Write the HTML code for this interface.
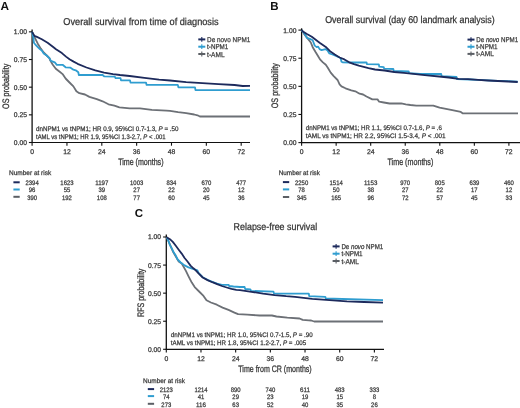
<!DOCTYPE html>
<html><head><meta charset="utf-8"><style>
html,body{margin:0;padding:0;background:#fff;width:520px;height:408px;overflow:hidden;}
svg{display:block;will-change:transform;}
text{font-family:"Liberation Sans",sans-serif;text-rendering:geometricPrecision;}
</style></head><body>
<svg width="520" height="408" viewBox="0 0 520 408">
<rect width="520" height="408" fill="#fff"/>
<text x="0.5" y="10.1" font-size="11.8" fill="#111" font-weight="bold">A</text>
<text x="63.3" y="24.9" font-size="10" fill="#333" textLength="155.3" lengthAdjust="spacingAndGlyphs" stroke="#333" stroke-width="0.25">Overall survival from time of diagnosis</text>
<path d="M32.1 29.5 V143.1" fill="none" stroke="#111" stroke-width="1.3"/>
<path d="M31.5 142.5 H250" fill="none" stroke="#111" stroke-width="1.15"/>
<path d="M28.9 142.5 H32.1" stroke="#111" stroke-width="1.1"/>
<text x="26.9" y="144.95" font-size="6.8" fill="#3a3a3a" text-anchor="end" textLength="13.1" lengthAdjust="spacingAndGlyphs" stroke="#3a3a3a" stroke-width="0.25">0.00</text>
<path d="M28.9 114.84 H32.1" stroke="#111" stroke-width="1.1"/>
<text x="26.9" y="117.29" font-size="6.8" fill="#3a3a3a" text-anchor="end" textLength="13.1" lengthAdjust="spacingAndGlyphs" stroke="#3a3a3a" stroke-width="0.25">0.25</text>
<path d="M28.9 87.17 H32.1" stroke="#111" stroke-width="1.1"/>
<text x="26.9" y="89.62" font-size="6.8" fill="#3a3a3a" text-anchor="end" textLength="13.1" lengthAdjust="spacingAndGlyphs" stroke="#3a3a3a" stroke-width="0.25">0.50</text>
<path d="M28.9 59.51 H32.1" stroke="#111" stroke-width="1.1"/>
<text x="26.9" y="61.96" font-size="6.8" fill="#3a3a3a" text-anchor="end" textLength="13.1" lengthAdjust="spacingAndGlyphs" stroke="#3a3a3a" stroke-width="0.25">0.75</text>
<path d="M28.9 31.85 H32.1" stroke="#111" stroke-width="1.1"/>
<text x="26.9" y="34.3" font-size="6.8" fill="#3a3a3a" text-anchor="end" textLength="13.1" lengthAdjust="spacingAndGlyphs" stroke="#3a3a3a" stroke-width="0.25">1.00</text>
<path d="M32.1 142.5 V145.7" stroke="#111" stroke-width="1.1"/>
<text x="32.1" y="153.8" font-size="6.8" fill="#3a3a3a" text-anchor="middle" stroke="#3a3a3a" stroke-width="0.25">0</text>
<path d="M66.95 142.5 V145.7" stroke="#111" stroke-width="1.1"/>
<text x="66.95" y="153.8" font-size="6.8" fill="#3a3a3a" text-anchor="middle" stroke="#3a3a3a" stroke-width="0.25">12</text>
<path d="M101.8 142.5 V145.7" stroke="#111" stroke-width="1.1"/>
<text x="101.8" y="153.8" font-size="6.8" fill="#3a3a3a" text-anchor="middle" stroke="#3a3a3a" stroke-width="0.25">24</text>
<path d="M136.64 142.5 V145.7" stroke="#111" stroke-width="1.1"/>
<text x="136.64" y="153.8" font-size="6.8" fill="#3a3a3a" text-anchor="middle" stroke="#3a3a3a" stroke-width="0.25">36</text>
<path d="M171.49 142.5 V145.7" stroke="#111" stroke-width="1.1"/>
<text x="171.49" y="153.8" font-size="6.8" fill="#3a3a3a" text-anchor="middle" stroke="#3a3a3a" stroke-width="0.25">48</text>
<path d="M206.34 142.5 V145.7" stroke="#111" stroke-width="1.1"/>
<text x="206.34" y="153.8" font-size="6.8" fill="#3a3a3a" text-anchor="middle" stroke="#3a3a3a" stroke-width="0.25">60</text>
<path d="M241.19 142.5 V145.7" stroke="#111" stroke-width="1.1"/>
<text x="241.19" y="153.8" font-size="6.8" fill="#3a3a3a" text-anchor="middle" stroke="#3a3a3a" stroke-width="0.25">72</text>
<text x="118.2" y="164.5" font-size="9.4" fill="#3a3a3a" textLength="45.3" lengthAdjust="spacingAndGlyphs" stroke="#3a3a3a" stroke-width="0.32">Time (months)</text>
<g transform="translate(9.3 108.9) rotate(-90)"><text x="0" y="0" font-size="9.4" fill="#3a3a3a" textLength="45.2" lengthAdjust="spacingAndGlyphs" stroke="#3a3a3a" stroke-width="0.32">OS probability</text></g>
<path d="M198.3 39.4 H205.3" stroke="#1d2a5c" stroke-width="2"/><path d="M201.8 37 V41.8" stroke="#1d2a5c" stroke-width="1.1"/>
<text x="207.1" y="41.9" font-size="7" fill="#3a3a3a" textLength="43.2" lengthAdjust="spacingAndGlyphs" stroke="#3a3a3a" stroke-width="0.25">De novo NPM1</text>
<path d="M198.3 46.7 H205.3" stroke="#2f9dd0" stroke-width="2"/><path d="M201.8 44.3 V49.1" stroke="#2f9dd0" stroke-width="1.1"/>
<text x="207.1" y="49.2" font-size="7" fill="#3a3a3a" textLength="21.2" lengthAdjust="spacingAndGlyphs" stroke="#3a3a3a" stroke-width="0.25">t-NPM1</text>
<path d="M198.3 54 H205.3" stroke="#5b5f65" stroke-width="2"/><path d="M201.8 51.6 V56.4" stroke="#5b5f65" stroke-width="1.1"/>
<text x="207.1" y="56.5" font-size="7" fill="#3a3a3a" textLength="17.5" lengthAdjust="spacingAndGlyphs" stroke="#3a3a3a" stroke-width="0.25">t-AML</text>
<text x="36" y="130.6" font-size="6.6" fill="#3a3a3a" textLength="142.5" lengthAdjust="spacingAndGlyphs" stroke="#3a3a3a" stroke-width="0.25">dnNPM1 vs tNPM1; HR 0.9, 95%CI 0.7-1.3, <tspan font-style="italic">P</tspan> = .50</text>
<text x="36" y="138.8" font-size="6.6" fill="#3a3a3a" textLength="129.6" lengthAdjust="spacingAndGlyphs" stroke="#3a3a3a" stroke-width="0.25">tAML vs tNPM1; HR 1.9, 95%CI 1.3-2.7, <tspan font-style="italic">P</tspan> &lt; .001</text>
<polyline points="32.1,31.9 33,34 34.9,37.8 37.8,43.7 40.8,48.6 43.7,52.5 46.7,55.5 49.6,58.4 49.9,59.9 52.8,64.8 55.8,68.7 59.7,71.7 62.6,74.1 65.6,78.5 69.5,82.5 73.4,86.4 76.4,91.3 79.3,93.2 85,94.5 89.4,96.9 96.8,99.1 102.6,101.3 108.5,104.3 114.4,105.7 119.4,107.4 129.7,108.4 140,108.4 151.8,109.9 166.5,110.6 170,110.8 178.1,112.1 186.2,113.2 194.2,114.5 197.5,115.3 199.9,116.5 250,116.5" fill="none" stroke="#6c7076" stroke-width="1.8" stroke-linejoin="round" stroke-linecap="butt"/>
<polyline points="32.1,31.9 33.4,37.8 33.9,42.7 35.9,45.2 37.8,47.2 39.8,49.1 41.8,50.6 43.7,53.5 46.7,55.5 49.6,58.4 50.9,60.9 54.8,62.4 56.8,64.8 62.6,64.8 65.6,67.3 70.5,67.7 73.4,69.7 76.4,70.7 78.3,72.2 78.8,75 102.6,75 104.1,76.3 114.8,76.6 115.4,78 120.5,78.1 121,80.4 130,80.4 130.5,82.6 146,82.6 146.6,84.9 177.8,84.9 178.4,87.3 195,87.3 195.5,90.2 250,90.2" fill="none" stroke="#2f9dd0" stroke-width="1.8" stroke-linejoin="round" stroke-linecap="butt"/>
<polyline points="32.1,31.9 34.4,35.9 36.9,36.9 41.8,39.3 47.6,42.7 53.5,47.2 56,49.2 61.9,53.1 66,56.6 69.5,59.2 73.6,61.6 77.6,63.8 86.5,67.5 95.3,70.4 104.1,72.6 113,74.1 120,75 129.7,76 144.4,77.9 159.1,79.7 170,80.5 186.2,82.1 202.3,83.2 218.5,84.2 234.6,85 242.7,86 250,85.8" fill="none" stroke="#1d2a5c" stroke-width="1.8" stroke-linejoin="round" stroke-linecap="butt"/>
<text x="9" y="175.2" font-size="6.6" fill="#3a3a3a" textLength="42.2" lengthAdjust="spacingAndGlyphs" stroke="#3a3a3a" stroke-width="0.25">Number at risk</text>
<path d="M13.4 182.3 H19.7" stroke="#1d2a5c" stroke-width="2"/>
<text x="32.1" y="185" font-size="6.5" fill="#3a3a3a" text-anchor="middle" textLength="13.2" lengthAdjust="spacingAndGlyphs" stroke="#3a3a3a" stroke-width="0.25">2394</text>
<text x="66.95" y="185" font-size="6.5" fill="#3a3a3a" text-anchor="middle" textLength="13.2" lengthAdjust="spacingAndGlyphs" stroke="#3a3a3a" stroke-width="0.25">1623</text>
<text x="101.8" y="185" font-size="6.5" fill="#3a3a3a" text-anchor="middle" textLength="13.2" lengthAdjust="spacingAndGlyphs" stroke="#3a3a3a" stroke-width="0.25">1197</text>
<text x="136.64" y="185" font-size="6.5" fill="#3a3a3a" text-anchor="middle" textLength="13.2" lengthAdjust="spacingAndGlyphs" stroke="#3a3a3a" stroke-width="0.25">1003</text>
<text x="171.49" y="185" font-size="6.5" fill="#3a3a3a" text-anchor="middle" textLength="9.9" lengthAdjust="spacingAndGlyphs" stroke="#3a3a3a" stroke-width="0.25">834</text>
<text x="206.34" y="185" font-size="6.5" fill="#3a3a3a" text-anchor="middle" textLength="9.9" lengthAdjust="spacingAndGlyphs" stroke="#3a3a3a" stroke-width="0.25">670</text>
<text x="241.19" y="185" font-size="6.5" fill="#3a3a3a" text-anchor="middle" textLength="9.9" lengthAdjust="spacingAndGlyphs" stroke="#3a3a3a" stroke-width="0.25">477</text>
<path d="M13.4 189.5 H19.7" stroke="#2f9dd0" stroke-width="2"/>
<text x="32.1" y="192.2" font-size="6.5" fill="#3a3a3a" text-anchor="middle" textLength="6.6" lengthAdjust="spacingAndGlyphs" stroke="#3a3a3a" stroke-width="0.25">96</text>
<text x="66.95" y="192.2" font-size="6.5" fill="#3a3a3a" text-anchor="middle" textLength="6.6" lengthAdjust="spacingAndGlyphs" stroke="#3a3a3a" stroke-width="0.25">55</text>
<text x="101.8" y="192.2" font-size="6.5" fill="#3a3a3a" text-anchor="middle" textLength="6.6" lengthAdjust="spacingAndGlyphs" stroke="#3a3a3a" stroke-width="0.25">39</text>
<text x="136.64" y="192.2" font-size="6.5" fill="#3a3a3a" text-anchor="middle" textLength="6.6" lengthAdjust="spacingAndGlyphs" stroke="#3a3a3a" stroke-width="0.25">27</text>
<text x="171.49" y="192.2" font-size="6.5" fill="#3a3a3a" text-anchor="middle" textLength="6.6" lengthAdjust="spacingAndGlyphs" stroke="#3a3a3a" stroke-width="0.25">22</text>
<text x="206.34" y="192.2" font-size="6.5" fill="#3a3a3a" text-anchor="middle" textLength="6.6" lengthAdjust="spacingAndGlyphs" stroke="#3a3a3a" stroke-width="0.25">20</text>
<text x="241.19" y="192.2" font-size="6.5" fill="#3a3a3a" text-anchor="middle" textLength="6.6" lengthAdjust="spacingAndGlyphs" stroke="#3a3a3a" stroke-width="0.25">12</text>
<path d="M13.4 196.8 H19.7" stroke="#5b5f65" stroke-width="2"/>
<text x="32.1" y="199.5" font-size="6.5" fill="#3a3a3a" text-anchor="middle" textLength="9.9" lengthAdjust="spacingAndGlyphs" stroke="#3a3a3a" stroke-width="0.25">390</text>
<text x="66.95" y="199.5" font-size="6.5" fill="#3a3a3a" text-anchor="middle" textLength="9.9" lengthAdjust="spacingAndGlyphs" stroke="#3a3a3a" stroke-width="0.25">192</text>
<text x="101.8" y="199.5" font-size="6.5" fill="#3a3a3a" text-anchor="middle" textLength="9.9" lengthAdjust="spacingAndGlyphs" stroke="#3a3a3a" stroke-width="0.25">108</text>
<text x="136.64" y="199.5" font-size="6.5" fill="#3a3a3a" text-anchor="middle" textLength="6.6" lengthAdjust="spacingAndGlyphs" stroke="#3a3a3a" stroke-width="0.25">77</text>
<text x="171.49" y="199.5" font-size="6.5" fill="#3a3a3a" text-anchor="middle" textLength="6.6" lengthAdjust="spacingAndGlyphs" stroke="#3a3a3a" stroke-width="0.25">60</text>
<text x="206.34" y="199.5" font-size="6.5" fill="#3a3a3a" text-anchor="middle" textLength="6.6" lengthAdjust="spacingAndGlyphs" stroke="#3a3a3a" stroke-width="0.25">45</text>
<text x="241.19" y="199.5" font-size="6.5" fill="#3a3a3a" text-anchor="middle" textLength="6.6" lengthAdjust="spacingAndGlyphs" stroke="#3a3a3a" stroke-width="0.25">36</text>
<text x="270.2" y="10.3" font-size="11.5" fill="#111" font-weight="bold">B</text>
<text x="325.2" y="22.9" font-size="10" fill="#333" textLength="169.4" lengthAdjust="spacingAndGlyphs" stroke="#333" stroke-width="0.25">Overall survival (day 60 landmark analysis)</text>
<path d="M301.6 28.3 V143.2" fill="none" stroke="#111" stroke-width="1.3"/>
<path d="M301 142.6 H520" fill="none" stroke="#111" stroke-width="1.15"/>
<path d="M298.4 142.6 H301.6" stroke="#111" stroke-width="1.1"/>
<text x="296.4" y="145.05" font-size="6.8" fill="#3a3a3a" text-anchor="end" textLength="13.1" lengthAdjust="spacingAndGlyphs" stroke="#3a3a3a" stroke-width="0.25">0.00</text>
<path d="M298.4 114.47 H301.6" stroke="#111" stroke-width="1.1"/>
<text x="296.4" y="116.92" font-size="6.8" fill="#3a3a3a" text-anchor="end" textLength="13.1" lengthAdjust="spacingAndGlyphs" stroke="#3a3a3a" stroke-width="0.25">0.25</text>
<path d="M298.4 86.35 H301.6" stroke="#111" stroke-width="1.1"/>
<text x="296.4" y="88.8" font-size="6.8" fill="#3a3a3a" text-anchor="end" textLength="13.1" lengthAdjust="spacingAndGlyphs" stroke="#3a3a3a" stroke-width="0.25">0.50</text>
<path d="M298.4 58.22 H301.6" stroke="#111" stroke-width="1.1"/>
<text x="296.4" y="60.67" font-size="6.8" fill="#3a3a3a" text-anchor="end" textLength="13.1" lengthAdjust="spacingAndGlyphs" stroke="#3a3a3a" stroke-width="0.25">0.75</text>
<path d="M298.4 30.1 H301.6" stroke="#111" stroke-width="1.1"/>
<text x="296.4" y="32.55" font-size="6.8" fill="#3a3a3a" text-anchor="end" textLength="13.1" lengthAdjust="spacingAndGlyphs" stroke="#3a3a3a" stroke-width="0.25">1.00</text>
<path d="M301.6 142.6 V145.8" stroke="#111" stroke-width="1.1"/>
<text x="301.6" y="153.9" font-size="6.8" fill="#3a3a3a" text-anchor="middle" stroke="#3a3a3a" stroke-width="0.25">0</text>
<path d="M336.15 142.6 V145.8" stroke="#111" stroke-width="1.1"/>
<text x="336.15" y="153.9" font-size="6.8" fill="#3a3a3a" text-anchor="middle" stroke="#3a3a3a" stroke-width="0.25">12</text>
<path d="M370.7 142.6 V145.8" stroke="#111" stroke-width="1.1"/>
<text x="370.7" y="153.9" font-size="6.8" fill="#3a3a3a" text-anchor="middle" stroke="#3a3a3a" stroke-width="0.25">24</text>
<path d="M405.24 142.6 V145.8" stroke="#111" stroke-width="1.1"/>
<text x="405.24" y="153.9" font-size="6.8" fill="#3a3a3a" text-anchor="middle" stroke="#3a3a3a" stroke-width="0.25">36</text>
<path d="M439.79 142.6 V145.8" stroke="#111" stroke-width="1.1"/>
<text x="439.79" y="153.9" font-size="6.8" fill="#3a3a3a" text-anchor="middle" stroke="#3a3a3a" stroke-width="0.25">48</text>
<path d="M474.34 142.6 V145.8" stroke="#111" stroke-width="1.1"/>
<text x="474.34" y="153.9" font-size="6.8" fill="#3a3a3a" text-anchor="middle" stroke="#3a3a3a" stroke-width="0.25">60</text>
<path d="M508.89 142.6 V145.8" stroke="#111" stroke-width="1.1"/>
<text x="508.89" y="153.9" font-size="6.8" fill="#3a3a3a" text-anchor="middle" stroke="#3a3a3a" stroke-width="0.25">72</text>
<text x="387.5" y="164.6" font-size="9.4" fill="#3a3a3a" textLength="45.8" lengthAdjust="spacingAndGlyphs" stroke="#3a3a3a" stroke-width="0.32">Time (months)</text>
<g transform="translate(278.3 108.2) rotate(-90)"><text x="0" y="0" font-size="9.4" fill="#3a3a3a" textLength="45" lengthAdjust="spacingAndGlyphs" stroke="#3a3a3a" stroke-width="0.32">OS probability</text></g>
<path d="M467.5 39.6 H474.5" stroke="#1d2a5c" stroke-width="2"/><path d="M471 37.2 V42" stroke="#1d2a5c" stroke-width="1.1"/>
<text x="476.3" y="42.1" font-size="7" fill="#3a3a3a" textLength="41.9" lengthAdjust="spacingAndGlyphs" stroke="#3a3a3a" stroke-width="0.25">De <tspan font-style="italic">novo</tspan> NPM1</text>
<path d="M467.5 46.75 H474.5" stroke="#2f9dd0" stroke-width="2"/><path d="M471 44.35 V49.15" stroke="#2f9dd0" stroke-width="1.1"/>
<text x="476.3" y="49.25" font-size="7" fill="#3a3a3a" textLength="21.2" lengthAdjust="spacingAndGlyphs" stroke="#3a3a3a" stroke-width="0.25">t-NPM1</text>
<path d="M467.5 53.9 H474.5" stroke="#5b5f65" stroke-width="2"/><path d="M471 51.5 V56.3" stroke="#5b5f65" stroke-width="1.1"/>
<text x="476.3" y="56.4" font-size="7" fill="#3a3a3a" textLength="17.5" lengthAdjust="spacingAndGlyphs" stroke="#3a3a3a" stroke-width="0.25">t-AML</text>
<text x="305.8" y="129.7" font-size="6.6" fill="#3a3a3a" textLength="136.1" lengthAdjust="spacingAndGlyphs" stroke="#3a3a3a" stroke-width="0.25">dnNPM1 vs tNPM1; HR 1.1, 95%CI 0.7-1.6, <tspan font-style="italic">P</tspan> = .6</text>
<text x="305.8" y="137.9" font-size="6.6" fill="#3a3a3a" textLength="139.9" lengthAdjust="spacingAndGlyphs" stroke="#3a3a3a" stroke-width="0.25">tAML vs tNPM1; HR 2.2, 95%CI 1.5-3.4, <tspan font-style="italic">P</tspan> &lt; .001</text>
<polyline points="301.6,30.1 303.9,33.6 307.8,38.6 310.8,42.5 312.7,47.2 315.7,52.3 318,56 320,59.4 322.9,62.4 325.8,64.8 327.8,67.7 330.7,72.6 333.7,76.1 337.6,80 339.6,84.4 341.5,86.4 345.5,88.3 351.3,90.3 355.3,91.3 359.6,93.7 363.1,94.5 366.5,96.5 372.3,99.4 377.5,99.4 379.2,101.7 383.8,102.5 389.6,103.5 401.2,103.4 405.8,104.4 410.4,105 416.3,105.6 433.3,105.6 439.6,107.7 452.3,110.2 460.8,111.9 462.9,113.4 518,113.4" fill="none" stroke="#6c7076" stroke-width="1.8" stroke-linejoin="round" stroke-linecap="butt"/>
<polyline points="301.6,30.1 303.9,32.9 306.9,37.8 309.8,38.8 312.7,40.3 314.7,45.6 316.7,47.1 318.1,46.6 319.6,49.1 321.6,50.1 325.5,49.1 327.5,50.5 329.4,53.5 332.4,54.5 334.8,55.5 340.6,58 341.5,61.8 342.5,62.3 351,62.5 366.5,62.3 367,64.2 378.8,64.4 379.3,66.7 383.7,67.1 384.1,68.6 393.3,69 393.8,71 408.7,71.5 409.1,73.2 420,74 441.2,74 441.6,76.1 456.5,77 457,79.2 470,79.5 478,79.8 488,80.4 498,80.8 508,81.2 517.7,81.6" fill="none" stroke="#2f9dd0" stroke-width="1.8" stroke-linejoin="round" stroke-linecap="butt"/>
<polyline points="301.6,30.1 302.9,31.4 306.9,33.9 311.8,36.8 319.6,42.7 326.5,47.6 330,51.2 334.8,54.6 339.6,57.5 344.4,59.4 349.2,62.3 354,64.2 358.8,65.7 363.7,66.9 368.5,68.1 375,69.5 384.6,70.5 394.2,72 403.8,72.9 413.5,73.9 420,74.6 429.6,75.6 439.2,76.5 448.8,77.5 458.5,78.8 468,79.2 478,79.8 488,80.5 498,81 508,81.5 517.7,82" fill="none" stroke="#1d2a5c" stroke-width="1.8" stroke-linejoin="round" stroke-linecap="butt"/>
<text x="278.75" y="174.8" font-size="6.6" fill="#3a3a3a" textLength="41.2" lengthAdjust="spacingAndGlyphs" stroke="#3a3a3a" stroke-width="0.25">Number at risk</text>
<path d="M282.9 182.1 H289.2" stroke="#1d2a5c" stroke-width="2"/>
<text x="301.6" y="184.8" font-size="6.5" fill="#3a3a3a" text-anchor="middle" textLength="13.2" lengthAdjust="spacingAndGlyphs" stroke="#3a3a3a" stroke-width="0.25">2250</text>
<text x="336.15" y="184.8" font-size="6.5" fill="#3a3a3a" text-anchor="middle" textLength="13.2" lengthAdjust="spacingAndGlyphs" stroke="#3a3a3a" stroke-width="0.25">1514</text>
<text x="370.7" y="184.8" font-size="6.5" fill="#3a3a3a" text-anchor="middle" textLength="13.2" lengthAdjust="spacingAndGlyphs" stroke="#3a3a3a" stroke-width="0.25">1153</text>
<text x="405.24" y="184.8" font-size="6.5" fill="#3a3a3a" text-anchor="middle" textLength="9.9" lengthAdjust="spacingAndGlyphs" stroke="#3a3a3a" stroke-width="0.25">970</text>
<text x="439.79" y="184.8" font-size="6.5" fill="#3a3a3a" text-anchor="middle" textLength="9.9" lengthAdjust="spacingAndGlyphs" stroke="#3a3a3a" stroke-width="0.25">805</text>
<text x="474.34" y="184.8" font-size="6.5" fill="#3a3a3a" text-anchor="middle" textLength="9.9" lengthAdjust="spacingAndGlyphs" stroke="#3a3a3a" stroke-width="0.25">639</text>
<text x="508.89" y="184.8" font-size="6.5" fill="#3a3a3a" text-anchor="middle" textLength="9.9" lengthAdjust="spacingAndGlyphs" stroke="#3a3a3a" stroke-width="0.25">460</text>
<path d="M282.9 189.4 H289.2" stroke="#2f9dd0" stroke-width="2"/>
<text x="301.6" y="192.1" font-size="6.5" fill="#3a3a3a" text-anchor="middle" textLength="6.6" lengthAdjust="spacingAndGlyphs" stroke="#3a3a3a" stroke-width="0.25">78</text>
<text x="336.15" y="192.1" font-size="6.5" fill="#3a3a3a" text-anchor="middle" textLength="6.6" lengthAdjust="spacingAndGlyphs" stroke="#3a3a3a" stroke-width="0.25">50</text>
<text x="370.7" y="192.1" font-size="6.5" fill="#3a3a3a" text-anchor="middle" textLength="6.6" lengthAdjust="spacingAndGlyphs" stroke="#3a3a3a" stroke-width="0.25">38</text>
<text x="405.24" y="192.1" font-size="6.5" fill="#3a3a3a" text-anchor="middle" textLength="6.6" lengthAdjust="spacingAndGlyphs" stroke="#3a3a3a" stroke-width="0.25">27</text>
<text x="439.79" y="192.1" font-size="6.5" fill="#3a3a3a" text-anchor="middle" textLength="6.6" lengthAdjust="spacingAndGlyphs" stroke="#3a3a3a" stroke-width="0.25">22</text>
<text x="474.34" y="192.1" font-size="6.5" fill="#3a3a3a" text-anchor="middle" textLength="6.6" lengthAdjust="spacingAndGlyphs" stroke="#3a3a3a" stroke-width="0.25">17</text>
<text x="508.89" y="192.1" font-size="6.5" fill="#3a3a3a" text-anchor="middle" textLength="6.6" lengthAdjust="spacingAndGlyphs" stroke="#3a3a3a" stroke-width="0.25">12</text>
<path d="M282.9 197 H289.2" stroke="#5b5f65" stroke-width="2"/>
<text x="301.6" y="199.7" font-size="6.5" fill="#3a3a3a" text-anchor="middle" textLength="9.9" lengthAdjust="spacingAndGlyphs" stroke="#3a3a3a" stroke-width="0.25">345</text>
<text x="336.15" y="199.7" font-size="6.5" fill="#3a3a3a" text-anchor="middle" textLength="9.9" lengthAdjust="spacingAndGlyphs" stroke="#3a3a3a" stroke-width="0.25">165</text>
<text x="370.7" y="199.7" font-size="6.5" fill="#3a3a3a" text-anchor="middle" textLength="6.6" lengthAdjust="spacingAndGlyphs" stroke="#3a3a3a" stroke-width="0.25">96</text>
<text x="405.24" y="199.7" font-size="6.5" fill="#3a3a3a" text-anchor="middle" textLength="6.6" lengthAdjust="spacingAndGlyphs" stroke="#3a3a3a" stroke-width="0.25">72</text>
<text x="439.79" y="199.7" font-size="6.5" fill="#3a3a3a" text-anchor="middle" textLength="6.6" lengthAdjust="spacingAndGlyphs" stroke="#3a3a3a" stroke-width="0.25">57</text>
<text x="474.34" y="199.7" font-size="6.5" fill="#3a3a3a" text-anchor="middle" textLength="6.6" lengthAdjust="spacingAndGlyphs" stroke="#3a3a3a" stroke-width="0.25">45</text>
<text x="508.89" y="199.7" font-size="6.5" fill="#3a3a3a" text-anchor="middle" textLength="6.6" lengthAdjust="spacingAndGlyphs" stroke="#3a3a3a" stroke-width="0.25">33</text>
<text x="134.8" y="217.3" font-size="11.5" fill="#111" font-weight="bold">C</text>
<text x="233.6" y="230" font-size="10" fill="#333" textLength="83.6" lengthAdjust="spacingAndGlyphs" stroke="#333" stroke-width="0.25">Relapse-free survival</text>
<path d="M166.3 234.6 V349.9" fill="none" stroke="#111" stroke-width="1.3"/>
<path d="M165.7 349.3 H384" fill="none" stroke="#111" stroke-width="1.15"/>
<path d="M163.1 349.3 H166.3" stroke="#111" stroke-width="1.1"/>
<text x="161.1" y="351.75" font-size="6.8" fill="#3a3a3a" text-anchor="end" textLength="13.1" lengthAdjust="spacingAndGlyphs" stroke="#3a3a3a" stroke-width="0.25">0.00</text>
<path d="M163.1 321.23 H166.3" stroke="#111" stroke-width="1.1"/>
<text x="161.1" y="323.68" font-size="6.8" fill="#3a3a3a" text-anchor="end" textLength="13.1" lengthAdjust="spacingAndGlyphs" stroke="#3a3a3a" stroke-width="0.25">0.25</text>
<path d="M163.1 293.15 H166.3" stroke="#111" stroke-width="1.1"/>
<text x="161.1" y="295.6" font-size="6.8" fill="#3a3a3a" text-anchor="end" textLength="13.1" lengthAdjust="spacingAndGlyphs" stroke="#3a3a3a" stroke-width="0.25">0.50</text>
<path d="M163.1 265.08 H166.3" stroke="#111" stroke-width="1.1"/>
<text x="161.1" y="267.53" font-size="6.8" fill="#3a3a3a" text-anchor="end" textLength="13.1" lengthAdjust="spacingAndGlyphs" stroke="#3a3a3a" stroke-width="0.25">0.75</text>
<path d="M163.1 237 H166.3" stroke="#111" stroke-width="1.1"/>
<text x="161.1" y="239.45" font-size="6.8" fill="#3a3a3a" text-anchor="end" textLength="13.1" lengthAdjust="spacingAndGlyphs" stroke="#3a3a3a" stroke-width="0.25">1.00</text>
<path d="M166.3 349.3 V352.5" stroke="#111" stroke-width="1.1"/>
<text x="166.3" y="360.6" font-size="6.8" fill="#3a3a3a" text-anchor="middle" stroke="#3a3a3a" stroke-width="0.25">0</text>
<path d="M200.98 349.3 V352.5" stroke="#111" stroke-width="1.1"/>
<text x="200.98" y="360.6" font-size="6.8" fill="#3a3a3a" text-anchor="middle" stroke="#3a3a3a" stroke-width="0.25">12</text>
<path d="M235.66 349.3 V352.5" stroke="#111" stroke-width="1.1"/>
<text x="235.66" y="360.6" font-size="6.8" fill="#3a3a3a" text-anchor="middle" stroke="#3a3a3a" stroke-width="0.25">24</text>
<path d="M270.34 349.3 V352.5" stroke="#111" stroke-width="1.1"/>
<text x="270.34" y="360.6" font-size="6.8" fill="#3a3a3a" text-anchor="middle" stroke="#3a3a3a" stroke-width="0.25">36</text>
<path d="M305.02 349.3 V352.5" stroke="#111" stroke-width="1.1"/>
<text x="305.02" y="360.6" font-size="6.8" fill="#3a3a3a" text-anchor="middle" stroke="#3a3a3a" stroke-width="0.25">48</text>
<path d="M339.7 349.3 V352.5" stroke="#111" stroke-width="1.1"/>
<text x="339.7" y="360.6" font-size="6.8" fill="#3a3a3a" text-anchor="middle" stroke="#3a3a3a" stroke-width="0.25">60</text>
<path d="M374.38 349.3 V352.5" stroke="#111" stroke-width="1.1"/>
<text x="374.38" y="360.6" font-size="6.8" fill="#3a3a3a" text-anchor="middle" stroke="#3a3a3a" stroke-width="0.25">72</text>
<text x="238.3" y="372.1" font-size="9.4" fill="#3a3a3a" textLength="73.4" lengthAdjust="spacingAndGlyphs" stroke="#3a3a3a" stroke-width="0.32">Time from CR (months)</text>
<g transform="translate(143.5 316.9) rotate(-90)"><text x="0" y="0" font-size="9.4" fill="#3a3a3a" textLength="48.3" lengthAdjust="spacingAndGlyphs" stroke="#3a3a3a" stroke-width="0.32">RFS probability</text></g>
<path d="M332.6 246.4 H339.6" stroke="#1d2a5c" stroke-width="2"/><path d="M336.1 244 V248.8" stroke="#1d2a5c" stroke-width="1.1"/>
<text x="341.4" y="248.9" font-size="7" fill="#3a3a3a" textLength="41.8" lengthAdjust="spacingAndGlyphs" stroke="#3a3a3a" stroke-width="0.25">De <tspan font-style="italic">novo</tspan> NPM1</text>
<path d="M332.6 253.7 H339.6" stroke="#2f9dd0" stroke-width="2"/><path d="M336.1 251.3 V256.1" stroke="#2f9dd0" stroke-width="1.1"/>
<text x="341.4" y="256.2" font-size="7" fill="#3a3a3a" textLength="21.2" lengthAdjust="spacingAndGlyphs" stroke="#3a3a3a" stroke-width="0.25">t-NPM1</text>
<path d="M332.6 261 H339.6" stroke="#5b5f65" stroke-width="2"/><path d="M336.1 258.6 V263.4" stroke="#5b5f65" stroke-width="1.1"/>
<text x="341.4" y="263.5" font-size="7" fill="#3a3a3a" textLength="17.5" lengthAdjust="spacingAndGlyphs" stroke="#3a3a3a" stroke-width="0.25">t-AML</text>
<text x="170.8" y="336.5" font-size="6.6" fill="#3a3a3a" textLength="141.9" lengthAdjust="spacingAndGlyphs" stroke="#3a3a3a" stroke-width="0.25">dnNPM1 vs tNPM1; HR 1.0, 95%CI 0.7-1.5, <tspan font-style="italic">P</tspan> = .90</text>
<text x="170.8" y="344.8" font-size="6.6" fill="#3a3a3a" textLength="135.5" lengthAdjust="spacingAndGlyphs" stroke="#3a3a3a" stroke-width="0.25">tAML vs tNPM1; HR 1.8, 95%CI 1.2-2.7, <tspan font-style="italic">P</tspan> = .005</text>
<polyline points="166.7,237.3 168,239.9 170.9,246.8 172.8,251.2 175.8,256.6 178.7,261.5 181.7,263.6 182.9,265.5 185.9,270.9 188.8,276.8 191.8,282.6 194.7,287.1 199.1,291.5 203.5,295.9 206.5,300.3 210.9,302.5 216.8,304.7 222.6,307.6 228.5,309.9 234.4,312.6 238.1,314.2 247.3,314.7 259.6,315.5 271.9,315.5 276.5,316.5 287.3,317.6 299.6,318.5 302.7,319.9 308.8,320.4 311.2,320.5 314.2,321.5 383,321.5" fill="none" stroke="#6c7076" stroke-width="1.8" stroke-linejoin="round" stroke-linecap="butt"/>
<polyline points="166.7,237.3 168,239.9 169.9,244.8 171.9,248.7 173.8,252.6 175.8,255.6 177.7,259.5 180.7,262.5 184.6,265.4 188.5,267.4 194.4,269.3 197.4,270.3 198.3,272.6 202.7,277.2 207.5,279.8 212.3,281.8 217.1,283.6 221.9,284.8 228.7,284.8 229.1,286 233.5,286.5 240,287 244.6,287 245.2,289 250.4,289.3 251,290.9 273.5,291.6 274,293.6 308.8,293.7 309.2,296.2 325.3,296.8 325.8,298.5 383,300.2" fill="none" stroke="#2f9dd0" stroke-width="1.8" stroke-linejoin="round" stroke-linecap="butt"/>
<polyline points="166.7,237.3 169.9,239.2 172.8,241.9 175.8,245.8 178.7,249.7 181.7,253.6 184.6,258 187.5,261.5 190.5,265.6 193.4,268.3 195,269.6 198.8,273.6 202.7,277.5 207.5,280.1 212.3,282.2 217.1,284.1 221.9,286 226.7,287.5 231.5,288.9 236.3,289.8 240,290.2 251.5,291.8 263.1,293.6 274.6,295.1 286.2,296.2 295,296.8 312.3,298.8 329.6,300.2 346.9,301.4 364.2,302 383,302.6" fill="none" stroke="#1d2a5c" stroke-width="1.8" stroke-linejoin="round" stroke-linecap="butt"/>
<text x="143" y="382.7" font-size="6.6" fill="#3a3a3a" textLength="42" lengthAdjust="spacingAndGlyphs" stroke="#3a3a3a" stroke-width="0.25">Number at risk</text>
<path d="M147.8 389.1 H154.1" stroke="#1d2a5c" stroke-width="2"/>
<text x="166.3" y="391.8" font-size="6.5" fill="#3a3a3a" text-anchor="middle" textLength="13.2" lengthAdjust="spacingAndGlyphs" stroke="#3a3a3a" stroke-width="0.25">2123</text>
<text x="200.98" y="391.8" font-size="6.5" fill="#3a3a3a" text-anchor="middle" textLength="13.2" lengthAdjust="spacingAndGlyphs" stroke="#3a3a3a" stroke-width="0.25">1214</text>
<text x="235.66" y="391.8" font-size="6.5" fill="#3a3a3a" text-anchor="middle" textLength="9.9" lengthAdjust="spacingAndGlyphs" stroke="#3a3a3a" stroke-width="0.25">890</text>
<text x="270.34" y="391.8" font-size="6.5" fill="#3a3a3a" text-anchor="middle" textLength="9.9" lengthAdjust="spacingAndGlyphs" stroke="#3a3a3a" stroke-width="0.25">740</text>
<text x="305.02" y="391.8" font-size="6.5" fill="#3a3a3a" text-anchor="middle" textLength="9.9" lengthAdjust="spacingAndGlyphs" stroke="#3a3a3a" stroke-width="0.25">611</text>
<text x="339.7" y="391.8" font-size="6.5" fill="#3a3a3a" text-anchor="middle" textLength="9.9" lengthAdjust="spacingAndGlyphs" stroke="#3a3a3a" stroke-width="0.25">483</text>
<text x="374.38" y="391.8" font-size="6.5" fill="#3a3a3a" text-anchor="middle" textLength="9.9" lengthAdjust="spacingAndGlyphs" stroke="#3a3a3a" stroke-width="0.25">333</text>
<path d="M147.8 396.1 H154.1" stroke="#2f9dd0" stroke-width="2"/>
<text x="166.3" y="398.8" font-size="6.5" fill="#3a3a3a" text-anchor="middle" textLength="6.6" lengthAdjust="spacingAndGlyphs" stroke="#3a3a3a" stroke-width="0.25">74</text>
<text x="200.98" y="398.8" font-size="6.5" fill="#3a3a3a" text-anchor="middle" textLength="6.6" lengthAdjust="spacingAndGlyphs" stroke="#3a3a3a" stroke-width="0.25">41</text>
<text x="235.66" y="398.8" font-size="6.5" fill="#3a3a3a" text-anchor="middle" textLength="6.6" lengthAdjust="spacingAndGlyphs" stroke="#3a3a3a" stroke-width="0.25">29</text>
<text x="270.34" y="398.8" font-size="6.5" fill="#3a3a3a" text-anchor="middle" textLength="6.6" lengthAdjust="spacingAndGlyphs" stroke="#3a3a3a" stroke-width="0.25">23</text>
<text x="305.02" y="398.8" font-size="6.5" fill="#3a3a3a" text-anchor="middle" textLength="6.6" lengthAdjust="spacingAndGlyphs" stroke="#3a3a3a" stroke-width="0.25">19</text>
<text x="339.7" y="398.8" font-size="6.5" fill="#3a3a3a" text-anchor="middle" textLength="6.6" lengthAdjust="spacingAndGlyphs" stroke="#3a3a3a" stroke-width="0.25">15</text>
<text x="374.38" y="398.8" font-size="6.5" fill="#3a3a3a" text-anchor="middle" textLength="3.3" lengthAdjust="spacingAndGlyphs" stroke="#3a3a3a" stroke-width="0.25">8</text>
<path d="M147.8 403.8 H154.1" stroke="#5b5f65" stroke-width="2"/>
<text x="166.3" y="406.5" font-size="6.5" fill="#3a3a3a" text-anchor="middle" textLength="9.9" lengthAdjust="spacingAndGlyphs" stroke="#3a3a3a" stroke-width="0.25">273</text>
<text x="200.98" y="406.5" font-size="6.5" fill="#3a3a3a" text-anchor="middle" textLength="9.9" lengthAdjust="spacingAndGlyphs" stroke="#3a3a3a" stroke-width="0.25">116</text>
<text x="235.66" y="406.5" font-size="6.5" fill="#3a3a3a" text-anchor="middle" textLength="6.6" lengthAdjust="spacingAndGlyphs" stroke="#3a3a3a" stroke-width="0.25">63</text>
<text x="270.34" y="406.5" font-size="6.5" fill="#3a3a3a" text-anchor="middle" textLength="6.6" lengthAdjust="spacingAndGlyphs" stroke="#3a3a3a" stroke-width="0.25">52</text>
<text x="305.02" y="406.5" font-size="6.5" fill="#3a3a3a" text-anchor="middle" textLength="6.6" lengthAdjust="spacingAndGlyphs" stroke="#3a3a3a" stroke-width="0.25">40</text>
<text x="339.7" y="406.5" font-size="6.5" fill="#3a3a3a" text-anchor="middle" textLength="6.6" lengthAdjust="spacingAndGlyphs" stroke="#3a3a3a" stroke-width="0.25">35</text>
<text x="374.38" y="406.5" font-size="6.5" fill="#3a3a3a" text-anchor="middle" textLength="6.6" lengthAdjust="spacingAndGlyphs" stroke="#3a3a3a" stroke-width="0.25">26</text>
</svg>
</body></html>
